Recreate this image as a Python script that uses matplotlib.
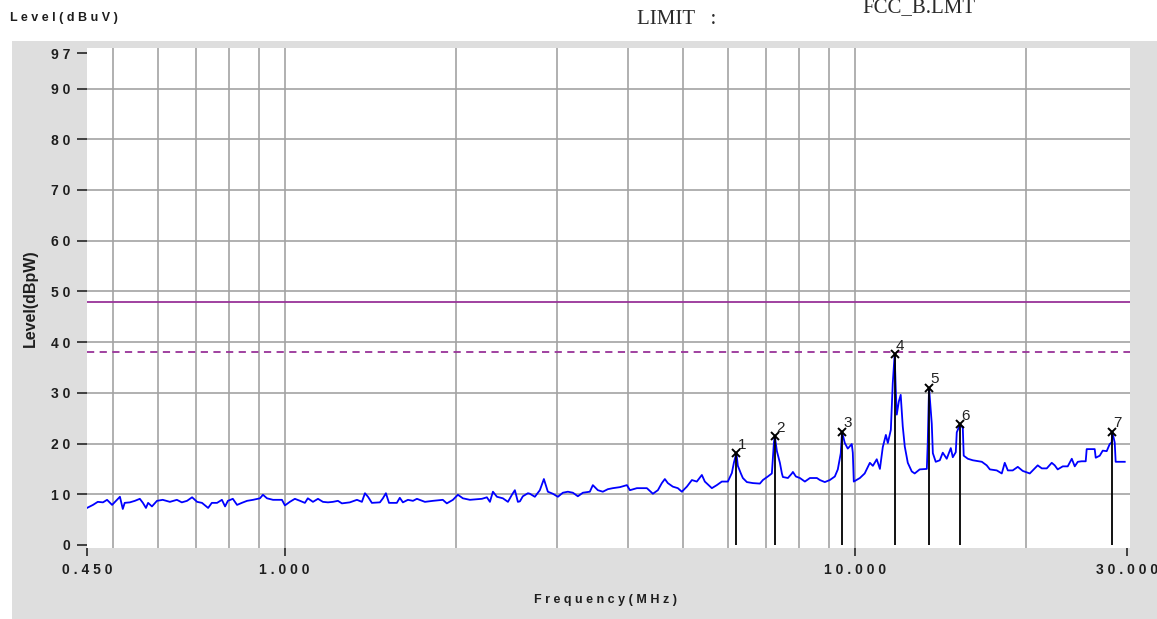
import matplotlib.pyplot as plt
from matplotlib.patches import Rectangle
from matplotlib.ticker import NullFormatter

# measured trace (MHz, dB)
freq = [
    0.450, 0.461, 0.470, 0.480, 0.488, 0.498, 0.508, 0.514, 0.520, 0.524,
    0.535, 0.546, 0.557, 0.564, 0.571, 0.576, 0.585, 0.597, 0.611, 0.629,
    0.647, 0.660, 0.674, 0.688, 0.702, 0.716, 0.734, 0.745, 0.761, 0.776,
    0.786, 0.795, 0.811, 0.825, 0.841, 0.859, 0.880, 0.905, 0.916, 0.931,
    0.954, 0.989, 1.001, 1.021, 1.042, 1.064, 1.085, 1.098, 1.121, 1.144,
    1.167, 1.191, 1.215, 1.240, 1.260, 1.301, 1.339, 1.366, 1.383, 1.400,
    1.422, 1.469, 1.487, 1.505, 1.524, 1.573, 1.592, 1.612, 1.645, 1.679,
    1.706, 1.762, 1.820, 1.894, 1.925, 1.973, 2.013, 2.054, 2.113, 2.218,
    2.263, 2.291, 2.319, 2.357, 2.414, 2.464, 2.504, 2.534, 2.565, 2.586,
    2.617, 2.671, 2.692, 2.747, 2.803, 2.849, 2.895, 2.954, 3.015, 3.076,
    3.139, 3.203, 3.268, 3.335, 3.430, 3.472, 3.543, 3.615, 3.689, 3.764,
    3.873, 3.984, 4.033, 4.148, 4.319, 4.425, 4.515, 4.588, 4.644, 4.700,
    4.796, 4.894, 4.974, 5.076, 5.180, 5.284, 5.393, 5.458, 5.615, 5.729,
    5.846, 5.990, 6.088, 6.137, 6.200, 6.237, 6.313, 6.364, 6.468, 6.627,
    6.817, 6.900, 7.040, 7.155, 7.214, 7.240, 7.302, 7.391, 7.451, 7.481,
    7.634, 7.758, 7.790, 7.884, 8.013, 8.176, 8.344, 8.583, 8.688, 8.861,
    9.042, 9.227, 9.339, 9.452, 9.500, 9.607, 9.723, 9.881, 9.922, 9.962,
    10.21, 10.41, 10.63, 10.76, 10.93, 11.07, 11.20, 11.34, 11.43, 11.57,
    11.66, 11.75, 11.80, 11.85, 11.95, 12.04, 12.14, 12.24, 12.39, 12.59,
    12.74, 13.00, 13.38, 13.43, 13.50, 13.65, 13.71, 13.87, 14.10, 14.27,
    14.50, 14.74, 14.86, 15.04, 15.10, 15.30, 15.41, 15.47, 15.53, 15.79,
    16.11, 16.71, 17.04, 17.26, 17.75, 18.11, 18.33, 18.56, 18.93, 19.32,
    19.71, 20.28, 20.69, 20.94, 21.29, 21.72, 22.16, 22.43, 22.70, 23.17,
    23.64, 24.03, 24.32, 24.62, 25.01, 25.42, 25.52, 26.36, 26.47, 26.90,
    27.23, 27.67, 28.01, 28.23, 28.30, 28.58, 28.69, 29.76,
]
level = [
    7.3, 7.9, 8.5, 8.4, 8.9, 7.9, 8.9, 9.5, 7.1, 8.3,
    8.4, 8.7, 9.1, 8.3, 7.3, 8.3, 7.6, 8.7, 8.9, 8.5,
    8.9, 8.4, 8.7, 9.4, 8.5, 8.3, 7.3, 8.3, 8.3, 8.9,
    7.6, 8.7, 9.1, 7.9, 8.3, 8.7, 8.9, 9.2, 9.9, 9.2,
    8.9, 8.9, 7.8, 8.5, 9.1, 8.7, 8.3, 9.2, 8.5, 9.1,
    8.5, 8.4, 8.5, 8.7, 8.2, 8.4, 8.9, 8.5, 10.2, 9.5,
    8.3, 8.4, 9.2, 10.2, 8.3, 8.3, 9.3, 8.4, 8.9, 8.7,
    9.1, 8.5, 8.7, 8.9, 8.2, 8.9, 9.9, 9.2, 8.9, 9.1,
    9.4, 8.5, 10.5, 9.5, 9.2, 8.5, 9.9, 10.8, 8.5, 8.6,
    9.6, 10.2, 10.1, 9.5, 10.8, 13.0, 10.5, 10.1, 9.5, 10.3,
    10.5, 10.3, 9.6, 10.3, 10.5, 11.8, 10.8, 10.5, 11.0, 11.2,
    11.4, 11.8, 10.8, 11.2, 11.2, 10.1, 10.8, 12.2, 13.0, 12.2,
    11.5, 11.2, 10.5, 11.5, 12.8, 12.5, 13.8, 12.5, 11.2, 11.8,
    12.5, 12.5, 14.2, 16.2, 18.1, 15.6, 14.1, 13.2, 12.4, 12.2,
    12.1, 12.8, 13.5, 14.1, 20.1, 21.5, 18.5, 16.2, 14.1, 13.4,
    13.2, 14.1, 14.4, 13.5, 13.2, 12.5, 13.2, 13.2, 12.8, 12.4,
    12.8, 13.5, 14.9, 18.1, 22.3, 20.1, 19.0, 19.9, 18.2, 12.5,
    13.2, 14.1, 16.2, 15.6, 16.9, 15.0, 19.3, 21.7, 20.1, 22.7,
    31.9, 37.6, 30.9, 25.7, 28.3, 29.6, 23.4, 19.4, 16.2, 14.5,
    14.1, 14.9, 15.0, 20.1, 31.0, 23.9, 18.1, 16.4, 16.7, 18.2,
    17.0, 19.1, 17.3, 18.3, 22.2, 23.8, 23.3, 23.3, 17.6, 17.0,
    16.7, 16.4, 15.7, 14.9, 14.7, 14.1, 16.2, 14.7, 14.7, 15.4,
    14.6, 14.1, 15.1, 15.7, 15.1, 15.1, 16.2, 15.7, 14.9, 15.5,
    15.5, 17.0, 15.5, 16.4, 16.5, 16.5, 18.9, 18.9, 17.2, 17.6,
    18.6, 18.5, 19.9, 20.2, 22.3, 20.2, 16.4, 16.4,
]

# peak markers
marker_freq = [6.20, 7.24, 9.50, 11.75, 13.50, 15.30, 28.30]
marker_level = [18.1, 21.5, 22.3, 37.6, 31.0, 23.8, 22.3]
marker_ids = ["1", "2", "3", "4", "5", "6", "7"]

limit_level = 48.0
margin_level = 38.0

y_ticks = [0, 10, 20, 30, 40, 50, 60, 70, 80, 90, 97]
y_grid = [10, 20, 30, 40, 50, 60, 70, 80, 90]
x_ticks = [0.45, 1.0, 10.0, 30.0]
x_tick_labels = ["0.450", "1.000", "10.000", "30.000"]
x_grid = [0.5, 0.6, 0.7, 0.8, 0.9, 1.0, 2, 3, 4, 5, 6, 7, 8, 9, 10, 20]


def spaced(s):
    return " ".join(s)


W, H = 1157, 619
fig = plt.figure(figsize=(W / 100, H / 100), dpi=100)
fig.patch.set_facecolor("white")
fig.patches.append(Rectangle((12 / W, 0), 1, 1 - 41 / H, transform=fig.transFigure,
                             facecolor="#dedede", edgecolor="none", zorder=-10))

ax = fig.add_axes([87 / W, 1 - 548 / H, (1130 - 87) / W, (548 - 48) / H])
ax.set_zorder(1)
ax.set_facecolor("white")
ax.set_xscale("log")
ax.set_xlim(0.45, 30.4)
ax.set_ylim(-0.6, 98)
for sp in ax.spines.values():
    sp.set_visible(False)

tick_font = dict(family="Liberation Sans", weight="bold", size=10)
ax.set_xticks(x_ticks, [spaced(t) for t in x_tick_labels], **tick_font)
ax.xaxis.set_minor_formatter(NullFormatter())
ax.tick_params(axis="x", which="minor", length=0)
ax.set_yticks(y_ticks, [spaced(str(v)) for v in y_ticks], **tick_font)
ax.tick_params(axis="both", which="major", length=7, width=1.3, color="#333333",
               labelcolor="#1e1e1e")
ax.tick_params(axis="x", which="major", length=6, pad=5)
ax.tick_params(axis="y", which="major", pad=5)

# grid
for g in x_grid:
    ax.axvline(g, color="#a3a3a3", lw=1.2, zorder=1)
for g in y_grid:
    ax.axhline(g, color="#a3a3a3", lw=1.2, zorder=1)

# limit lines
ax.axhline(limit_level, color="#993399", lw=1.3, zorder=2)
ax.axhline(margin_level, color="#993399", lw=1.3, ls=(0, (4, 3)), zorder=2)

# trace
ax.plot(freq, level, color="#0000ff", lw=1.3, zorder=3)

# markers
ax.vlines(marker_freq, 0, marker_level, color="black", lw=1.3, zorder=4)
ax.plot(marker_freq, marker_level, "x", color="black", ms=6, mew=1.4, zorder=5)
for f, lv, lab in zip(marker_freq, marker_level, marker_ids):
    ax.annotate(lab, (f, lv), xytext=(1, 1), textcoords="offset points",
                ha="left", va="bottom", fontsize=11, family="Liberation Sans",
                color="#222222", zorder=6)

fig.text(10 / W, 1 - 18 / H, spaced("Level(dBuV)"), ha="left", va="center",
         color="#1e1e1e", family="Liberation Sans", weight="bold", size=9)
fig.text(637 / W, 1 - 20 / H, "LIMIT   :", ha="left", va="center",
         family="Liberation Serif", size=15, color="#2a2a2a")
fig.text(862 / W, 1 - 8 / H, "FCC_B.LMT", ha="left", va="center",
         family="Liberation Serif", size=15, color="#2a2a2a")
fig.text(30 / W, 1 - 298 / H, "Level(dBpW)", rotation=90, ha="center", va="center",
         family="Liberation Sans", weight="bold", size=11.5, color="#1e1e1e")
fig.text(605 / W, 1 - 600 / H, spaced("Frequency(MHz)"), ha="center", va="center",
         color="#1e1e1e", family="Liberation Sans", weight="bold", size=9)

fig.savefig("out.png", dpi=100)
